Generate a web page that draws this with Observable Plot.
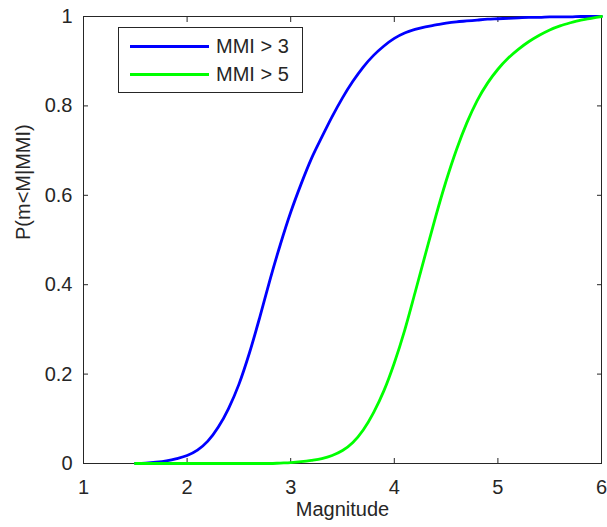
<!DOCTYPE html>
<html>
<head>
<meta charset="utf-8">
<script src="https://cdn.jsdelivr.net/npm/d3@7"></script>
<script src="https://cdn.jsdelivr.net/npm/@observablehq/plot@0.6"></script>
<style>
  body { margin: 0; background: #fff; }
  #chart { position: relative; width: 607px; height: 527px; font-family: "Liberation Sans", Arial, sans-serif; }
  .legend { position: absolute; left: 118px; top: 27px; width: 185px; height: 66px; border: 1px solid #262626; background: #fff; box-sizing: border-box; }
  .row { position: absolute; left: 11px; height: 24px; display: flex; align-items: center; }
  .swatch { width: 79px; height: 3px; margin-right: 7px; }
  .row span { font-size: 20px; color: #262626; white-space: nowrap; }
</style>
</head>
<body>
<div id="chart"></div>
<script>
// Magnitude grid and cumulative probabilities P(m<M|MMI) for the two intensity thresholds
const magnitude = [1.5, 1.6, 1.7, 1.8, 1.9, 2.0, 2.1, 2.2, 2.3, 2.4, 2.5, 2.6, 2.7, 2.8, 2.9,
  3.0, 3.1, 3.2, 3.3, 3.4, 3.5, 3.6, 3.7, 3.8, 3.9, 4.0, 4.1, 4.2, 4.3, 4.4, 4.5, 4.6, 4.7,
  4.8, 4.9, 5.0, 5.1, 5.2, 5.3, 5.4, 5.5, 5.6, 5.7, 5.8, 5.9, 6.0];

const pMMI3 = [0, 0.001, 0.003, 0.006, 0.011, 0.018, 0.03, 0.05, 0.081, 0.123, 0.177, 0.246,
  0.326, 0.411, 0.49, 0.562, 0.625, 0.682, 0.73, 0.776, 0.818, 0.855, 0.887, 0.913, 0.934,
  0.951, 0.963, 0.971, 0.977, 0.981, 0.985, 0.988, 0.99, 0.992, 0.994, 0.995, 0.996,
  0.997, 0.998, 0.998, 0.999, 0.999, 0.999, 1.0, 1.0, 1.0];

const pMMI5 = [0, 0, 0, 0, 0, 0, 0, 0, 0, 0, 0, 0, 0, 0, 0.001, 0.002, 0.004, 0.007, 0.011,
  0.018, 0.029, 0.047, 0.075, 0.114, 0.163, 0.225, 0.298, 0.382, 0.468, 0.553, 0.632, 0.702,
  0.762, 0.812, 0.851, 0.882, 0.907, 0.927, 0.944, 0.958, 0.97, 0.979, 0.986, 0.992, 0.996, 1.0];

const seriesNames = ["MMI > 3", "MMI > 5"];
const seriesColors = ["#0000ff", "#00ff00"];
const xTicks = [1, 2, 3, 4, 5, 6];
const yTicks = [0, 0.2, 0.4, 0.6, 0.8, 1];

const rows3 = magnitude.map((m, i) => ({m, p: pMMI3[i]}));
const rows5 = magnitude.map((m, i) => ({m, p: pMMI5[i]}));

const ink = "#262626";
const fmt = d => String(d);

const chart = Plot.plot({
  width: 607,
  height: 527,
  marginLeft: 83,
  marginRight: 6,
  marginTop: 16,
  marginBottom: 64,
  style: {fontFamily: "'Liberation Sans', Arial, sans-serif", fontSize: "20px", color: ink, background: "#fff"},
  x: {domain: [1, 6]},
  y: {domain: [0, 1]},
  marks: [
    Plot.frame({stroke: ink}),
    Plot.axisX(xTicks, {anchor: "bottom", tickSize: -5, tickPadding: 21, tickFormat: fmt, stroke: ink, fill: ink, fontSize: 20, label: null}),
    Plot.axisX(xTicks, {anchor: "top", tickSize: -5, tickFormat: () => "", stroke: ink, label: null}),
    Plot.axisY(yTicks, {anchor: "left", tickSize: -5, tickPadding: 16, tickFormat: fmt, stroke: ink, fill: ink, fontSize: 20, label: null}),
    Plot.axisY(yTicks, {anchor: "right", tickSize: -5, tickFormat: () => "", stroke: ink, label: null}),
    Plot.text(["Magnitude"], {frameAnchor: "bottom", dy: 52, fill: ink, fontSize: 20}),
    Plot.text(["P(m<M|MMI)"], {frameAnchor: "left", dx: -60, rotate: -90, fill: ink, fontSize: 20}),
    Plot.line(rows3, {x: "m", y: "p", stroke: seriesColors[0], strokeWidth: 2.8, curve: "monotone-x"}),
    Plot.line(rows5, {x: "m", y: "p", stroke: seriesColors[1], strokeWidth: 2.8, curve: "monotone-x"})
  ]
});

const root = document.getElementById("chart");
root.appendChild(chart);

// Legend box in the upper-left of the axes
const legend = document.createElement("div");
legend.className = "legend";
seriesNames.forEach((name, i) => {
  const row = document.createElement("div");
  row.className = "row";
  row.style.top = (6 + i * 28) + "px";
  const sw = document.createElement("div");
  sw.className = "swatch";
  sw.style.background = seriesColors[i];
  const label = document.createElement("span");
  label.textContent = name;
  row.appendChild(sw);
  row.appendChild(label);
  legend.appendChild(row);
});
root.appendChild(legend);
</script>
</body>
</html>
